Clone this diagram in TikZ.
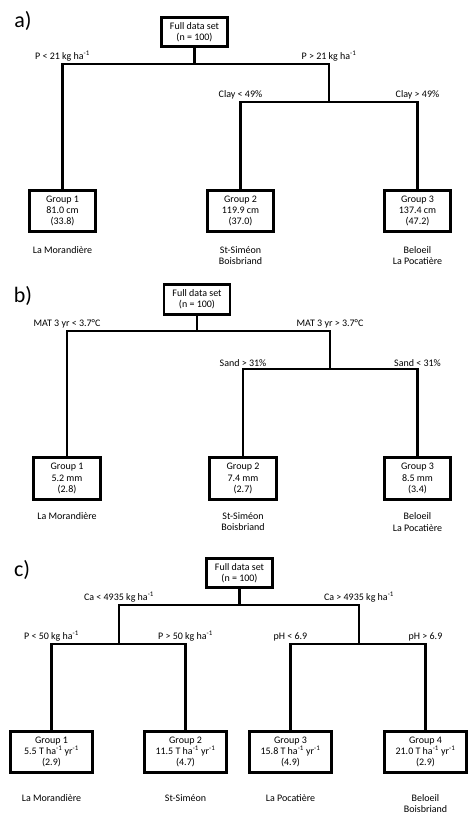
\documentclass[tikz,border=0pt]{standalone}
\usepackage{fontspec}
\setmainfont{Carlito}
\tikzset{
  every node/.style={font=\fontsize{10}{11.2}\selectfont},
  ln/.style={line width=2.8pt, line cap=rect},
  box/.style={draw, line width=2.8pt, align=center, inner sep=0pt, fill=white},
  rbox/.style={box, minimum width=66pt, minimum height=29.5pt},
  gbox/.style={box, minimum width=66.5pt, minimum height=41.5pt},
  cbox/.style={box, minimum width=82.5pt, minimum height=41.5pt},
  lbl/.style={anchor=south, inner sep=0.5pt},
  site/.style={anchor=north, align=center, inner sep=0pt},
  panel/.style={font=\fontsize{22}{24}\selectfont},
}
\newcommand{\inv}{\textsuperscript{-1}}
\begin{document}
\begin{tikzpicture}[x=1pt,y=-1pt]
\useasboundingbox[fill=white] (0,0) rectangle (474,817);

% ---------------- panel a
\node[panel] (pa) at (23,21) {a)};
\node[rbox] (aroot) at (194.5,32) {Full data set\\(n = 100)};
\node[gbox] (ag1) at (62.5,211) {Group 1\\81.0 cm\\(33.8)};
\node[gbox] (ag2) at (240.5,211) {Group 2\\119.9 cm\\(37.0)};
\node[gbox] (ag3) at (417.5,211) {Group 3\\137.4 cm\\(47.2)};
\coordinate (as1) at (329,64);
\coordinate (as2) at (329,102);
\draw[ln] (aroot.south) -- (aroot.south |- as1);
\draw[ln] (ag1.north) |- (as1);
\draw[ln] (as1) -- (as2);
\draw[ln] (ag2.north) |- (as2);
\draw[ln] (ag3.north) |- (as2);
\node[lbl] (al1) at ([yshift=2pt]ag1.north |- as1) {P < 21 kg ha\inv};
\node[lbl] (al2) at ([yshift=2pt]as1) {P > 21 kg ha\inv};
\node[lbl] (al3) at ([yshift=2pt]ag2.north |- as2) {Clay < 49\%};
\node[lbl] (al4) at ([yshift=2pt]ag3.north |- as2) {Clay > 49\%};
\node[site] (asite1) at ([yshift=-13pt]ag1.south) {La Morandière};
\node[site] (asite2) at ([yshift=-13pt]ag2.south) {St-Siméon\\Boisbriand};
\node[site] (asite3) at ([yshift=-13pt]ag3.south) {Beloeil\\La Pocatière};

% ---------------- panel b
\node[panel] (pb) at (23,296) {b)};
\node[rbox] (broot) at (197,299.5) {Full data set\\(n = 100)};
\node[gbox] (bg1) at (67,478.5) {Group 1\\5.2 mm\\(2.8)};
\node[gbox] (bg2) at (243,478.5) {Group 2\\7.4 mm\\(2.7)};
\node[gbox] (bg3) at (417.5,478.5) {Group 3\\8.5 mm\\(3.4)};
\coordinate (bs1) at (330,331);
\coordinate (bs2) at (330,369);
\draw[ln] (broot.south) -- (broot.south |- bs1);
\draw[ln] (bg1.north) |- (bs1);
\draw[ln] (bs1) -- (bs2);
\draw[ln] (bg2.north) |- (bs2);
\draw[ln] (bg3.north) |- (bs2);
\node[lbl] (bl1) at ([yshift=2pt]bg1.north |- bs1) {MAT 3 yr < 3.7°C};
\node[lbl] (bl2) at ([yshift=2pt]bs1) {MAT 3 yr > 3.7°C};
\node[lbl] (bl3) at ([yshift=2pt]bg2.north |- bs2) {Sand > 31\%};
\node[lbl] (bl4) at ([yshift=2pt]bg3.north |- bs2) {Sand < 31\%};
\node[site] (bsite1) at ([yshift=-12pt]bg1.south) {La Morandière};
\node[site] (bsite2) at ([yshift=-12pt]bg2.south) {St-Siméon\\Boisbriand};
\node[site] (bsite3) at ([yshift=-12pt]bg3.south) {Beloeil\\La Pocatière};

% ---------------- panel c
\node[panel] (pc) at (22,570) {c)};
\node[rbox] (croot) at (239.5,573) {Full data set\\(n = 100)};
\node[cbox] (cg1) at (51.5,752) {Group 1\\5.5 T ha\inv{} yr\inv\\(2.9)};
\node[cbox] (cg2) at (185.5,752) {Group 2\\11.5 T ha\inv{} yr\inv\\(4.7)};
\node[cbox] (cg3) at (290.5,752) {Group 3\\15.8 T ha\inv{} yr\inv\\(4.9)};
\node[cbox] (cg4) at (425.5,752) {Group 4\\21.0 T ha\inv{} yr\inv\\(2.9)};
\coordinate (cs1) at (239.5,605);
\coordinate (csl) at (119,644);
\coordinate (csr) at (359,644);
\draw[ln] (croot.south) -- (cs1);
\draw[ln] (csl) |- (cs1);
\draw[ln] (csr) |- (cs1);
\draw[ln] (cg1.north) |- (csl);
\draw[ln] (cg2.north) |- (csl);
\draw[ln] (cg3.north) |- (csr);
\draw[ln] (cg4.north) |- (csr);
\node[lbl] (cl1) at ([yshift=2pt]csl |- cs1) {Ca < 4935 kg ha\inv};
\node[lbl] (cl2) at ([yshift=2pt]csr |- cs1) {Ca > 4935 kg ha\inv};
\node[lbl] (cl3) at ([yshift=2pt]cg1.north |- csl) {P < 50 kg ha\inv};
\node[lbl] (cl4) at ([yshift=2pt]cg2.north |- csl) {P > 50 kg ha\inv};
\node[lbl] (cl5) at ([yshift=2pt]cg3.north |- csr) {pH < 6.9};
\node[lbl] (cl6) at ([yshift=2pt]cg4.north |- csr) {pH > 6.9};
\node[site] (csite1) at ([yshift=-20pt]cg1.south) {La Morandière};
\node[site] (csite2) at ([yshift=-20pt]cg2.south) {St-Siméon};
\node[site] (csite3) at ([yshift=-20pt]cg3.south) {La Pocatière};
\node[site] (csite4) at ([yshift=-20pt]cg4.south) {Beloeil\\Boisbriand};
\end{tikzpicture}
\end{document}
